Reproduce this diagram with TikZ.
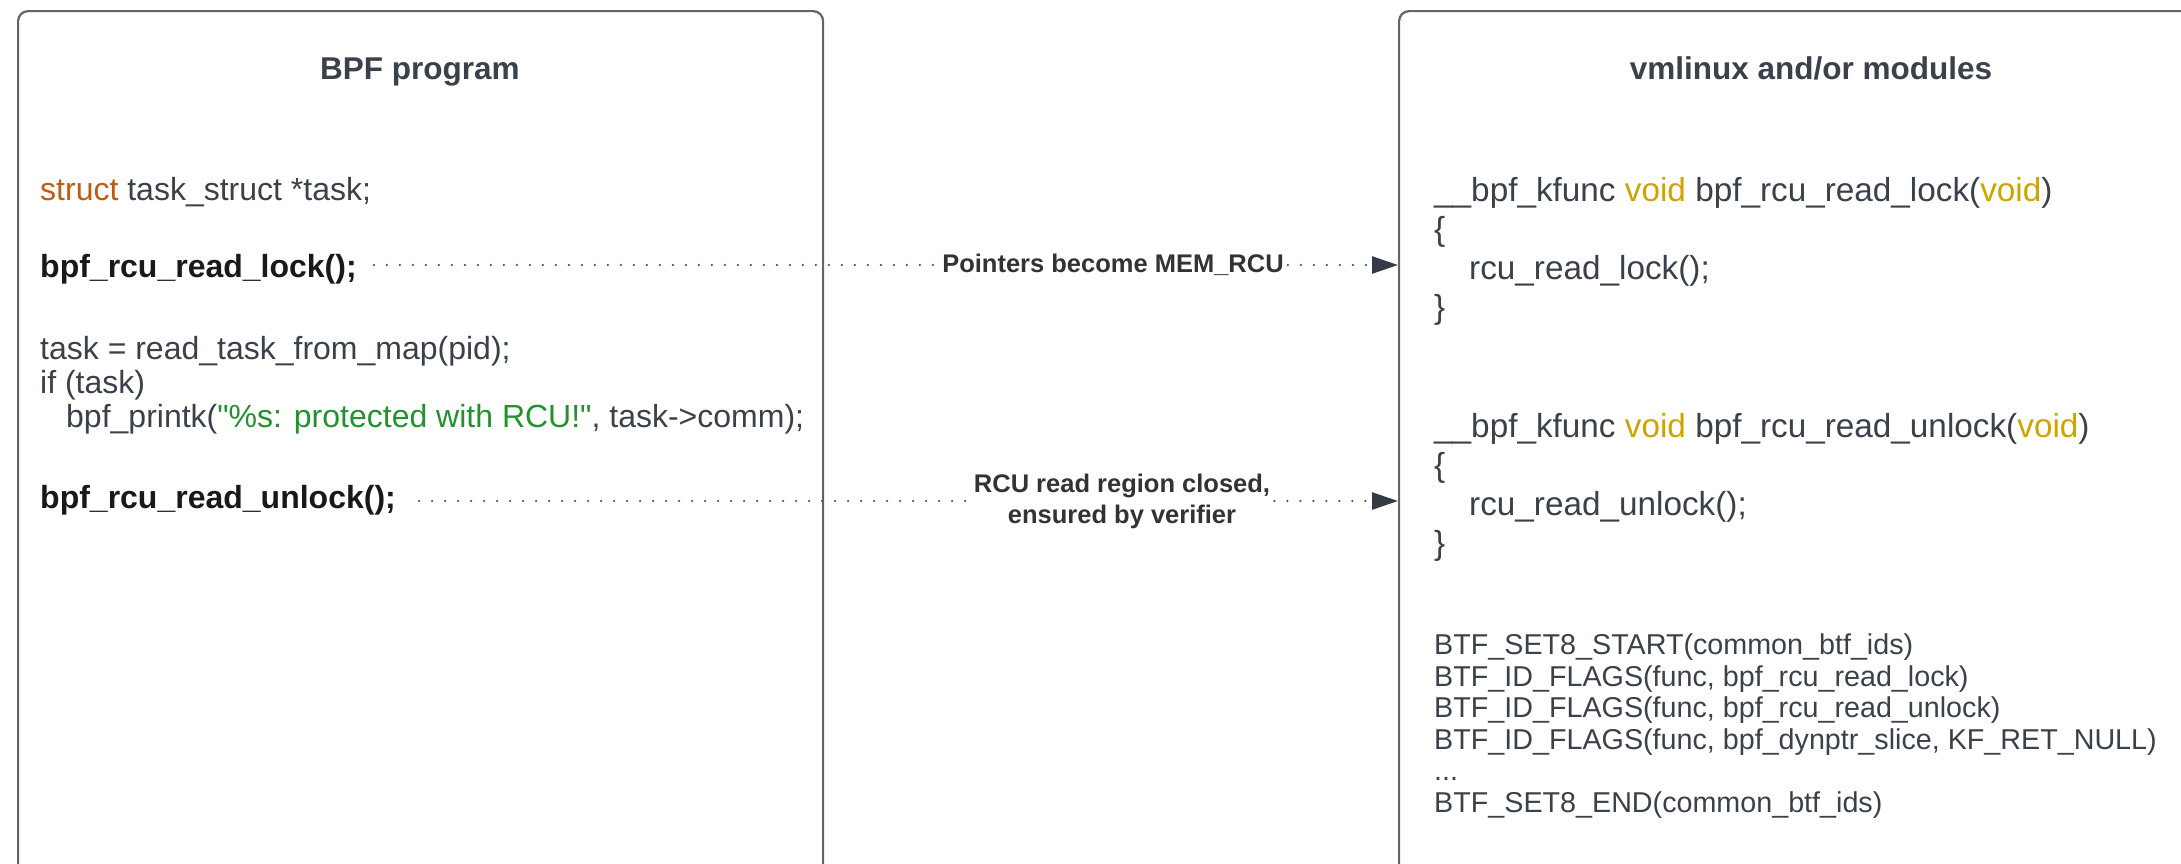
\documentclass[tikz,border=0pt]{standalone}
\usepackage{fontspec}
\setmainfont{Liberation Sans}[Ligatures=TeXOff]
\usetikzlibrary{arrows.meta}
\definecolor{txt}{HTML}{3A414A}
\definecolor{framec}{HTML}{646464}
\definecolor{dotc}{HTML}{50555C}
\definecolor{tipc}{HTML}{333B45}
\definecolor{lblc}{HTML}{333333}
\definecolor{kwc}{HTML}{C25A16}
\definecolor{strc}{HTML}{22912E}
\definecolor{voidc}{HTML}{CFA300}
\newcommand{\dquote}{\symbol{34}}
\begin{document}
\begin{tikzpicture}[x=1pt,y=-1pt,
  frame/.style={draw=framec, line width=2.2pt, rounded corners=10pt, anchor=north west, inner sep=0pt},
  codeL/.style={anchor=base west, inner sep=0pt, text=txt, font=\fontsize{32}{36}\selectfont},
  boldL/.style={anchor=base west, inner sep=0pt, text=black!90, font=\bfseries\fontsize{32}{36}\selectfont},
  codeR/.style={anchor=base west, inner sep=0pt, text=txt, font=\fontsize{33.3}{38}\selectfont},
  codeB/.style={anchor=base west, inner sep=0pt, text=txt, font=\fontsize{28.7}{32}\selectfont},
  title/.style={anchor=base, inner sep=0pt, text=txt, font=\bfseries\fontsize{31.5}{36}\selectfont},
  lbl/.style={fill=white, inner xsep=4pt, inner ysep=2pt, text=lblc, align=center, font=\bfseries\fontsize{25.5}{31}\selectfont},
  dotline/.style={draw=dotc, line width=2.5pt, line cap=round, dash pattern=on 0pt off 13pt},
  tip/.style={-{Triangle[length=26pt,width=17pt,color=tipc]}}
]
\useasboundingbox (0,0) rectangle (2181,863);

% frames
\node[frame, minimum width=805pt, minimum height=900pt] (lbox) at (17,10) {};
\node[frame, minimum width=820pt, minimum height=900pt] (rbox) at (1398,10) {};

% titles
\node[title] (ltitle) at (420,79) {BPF program};
\node[title] (rtitle) at (1811,79) {vmlinux and/or modules};

% left code
\node[codeL] (decl) at (40,200) {{\color{kwc}struct} task\_struct *task;};
\node[boldL] (lockL) at (40,277) {bpf\_rcu\_read\_lock();};
\node[codeL] (assign) at (40,359) {task = read\_task\_from\_map(pid);};
\node[codeL] (iftask) at (40,393) {if (task)};
\node[codeL] (printk) at (66,427) {bpf\_printk({\color{strc}\dquote\%s: protected with RCU!\dquote}, task->comm);};
\node[boldL] (unlockL) at (40,508) {bpf\_rcu\_read\_unlock();};

% right code
\node[codeR] (kflock) at (1434,201) {\_\_bpf\_kfunc {\color{voidc}void} bpf\_rcu\_read\_lock({\color{voidc}void})};
\node[codeR] (ob1) at (1434,240) {\{};
\node[codeR] (rlock) at (1469,279) {rcu\_read\_lock();};
\node[codeR] (cb1) at (1434,318) {\}};
\node[codeR] (kfunlock) at (1434,437) {\_\_bpf\_kfunc {\color{voidc}void} bpf\_rcu\_read\_unlock({\color{voidc}void})};
\node[codeR] (ob2) at (1434,476) {\{};
\node[codeR] (runlock) at (1469,515) {rcu\_read\_unlock();};
\node[codeR] (cb2) at (1434,554) {\}};
\node[codeB] (btf1) at (1434,654) {BTF\_SET8\_START(common\_btf\_ids)};
\node[codeB] (btf2) at (1434,686) {BTF\_ID\_FLAGS(func, bpf\_rcu\_read\_lock)};
\node[codeB] (btf3) at (1434,717) {BTF\_ID\_FLAGS(func, bpf\_rcu\_read\_unlock)};
\node[codeB] (btf4) at (1434,749) {BTF\_ID\_FLAGS(func, bpf\_dynptr\_slice, KF\_RET\_NULL)};
\node[codeB] (btf5) at (1434,780) {...};
\node[codeB] (btf6) at (1434,812) {BTF\_SET8\_END(common\_btf\_ids)};

% connector labels
\node[lbl] (lbl1) at (1113,265) {Pointers become MEM\_RCU};
\node[lbl] (lbl2) at (1122,501) {RCU read region closed,\\ensured by verifier};

% connectors
\draw[dotline] ([xshift=17pt]lbl1.west -| lockL.east) -- (lbl1.west);
\draw[dotline, tip] (lbl1.east) -- (lbl1.east -| rbox.west);
\draw[dotline] ([xshift=23pt]lbl2.west -| unlockL.east) -- (lbl2.west);
\draw[dotline, tip] (lbl2.east) -- (lbl2.east -| rbox.west);
\end{tikzpicture}
\end{document}
